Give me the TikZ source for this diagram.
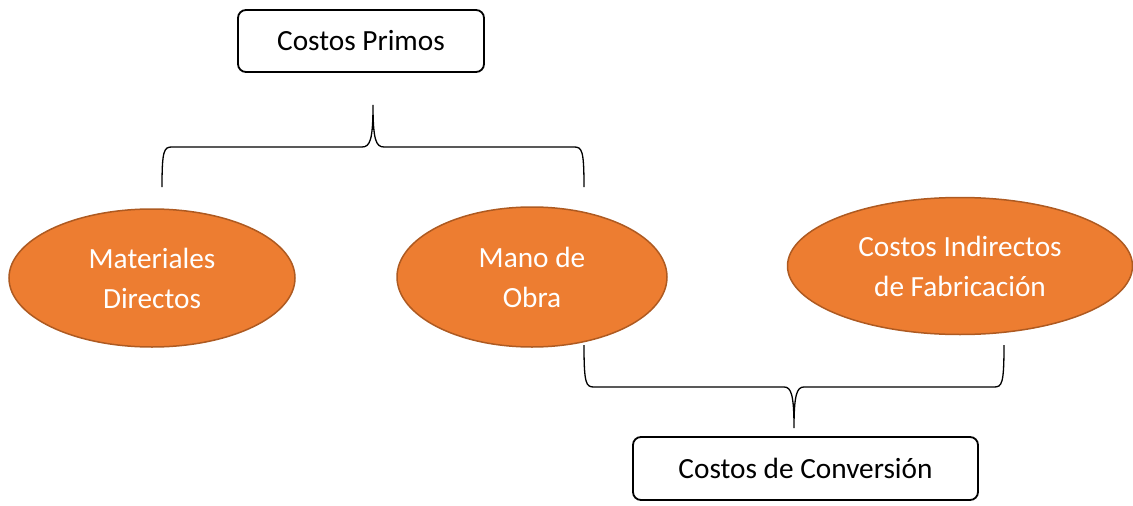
\documentclass[tikz,border=0pt]{standalone}
\usepackage{fontspec}
\setmainfont{Carlito}
\usepackage{tikz}
\usetikzlibrary{shapes.geometric}
\definecolor{costorange}{RGB}{237,125,49}
\definecolor{costborder}{RGB}{174,90,33}

\begin{document}
\begin{tikzpicture}[x=1pt,y=-1pt,
        costbox/.style={shape=rectangle,draw=black,line width=1.8pt,rounded corners=8pt,inner sep=0pt,font=\fontsize{29.3}{34}\selectfont},
        costellipse/.style={shape=ellipse,draw=costborder,fill=costorange,line width=1.5pt,inner sep=0pt,text=white,align=center,font=\fontsize{29.3}{40}\selectfont},
        bracket/.style={draw=black,line width=1.3pt}]
        \useasboundingbox (0,0) rectangle (1133,506);
        \node[costbox,minimum width=246pt,minimum height=62pt] (primos) at (361,41) {Costos Primos};
        \node[costellipse,minimum width=286pt,minimum height=138pt] (materiales) at (152,278) {Materiales\\Directos};
        \node[costellipse,minimum width=270pt,minimum height=140pt] (mano) at (532,277) {Mano de\\Obra};
        \node[costellipse,minimum width=345pt,minimum height=137pt] (indirectos) at (960,266) {Costos Indirectos\\de Fabricación};
        \node[costbox,minimum width=345pt,minimum height=63pt] (conversion) at (805.5,468.5) {Costos de Conversión};
        % top bracket
        \coordinate (topL) at (162,187);
        \coordinate (topR) at (584,187);
        \coordinate (topTip) at (373,105);
        \path[bracket] (topL) .. controls (162,150) and (164,147) .. (172,147) -- (362,147)
            .. controls (370,147) and (373,140) .. (topTip)
            .. controls (373,140) and (376,147) .. (384,147) -- (574,147)
            .. controls (582,147) and (584,150) .. (topR);
        % bottom bracket
        \coordinate (botL) at (584,345);
        \coordinate (botR) at (1004,345);
        \coordinate (botTip) at (794,428);
        \path[bracket] (botL) .. controls (584,384) and (586,387) .. (594,387) -- (784,387)
            .. controls (791,387) and (794,394) .. (botTip)
            .. controls (794,394) and (797,387) .. (804,387) -- (994,387)
            .. controls (1002,387) and (1004,384) .. (botR);
    \end{tikzpicture}
\end{document}
